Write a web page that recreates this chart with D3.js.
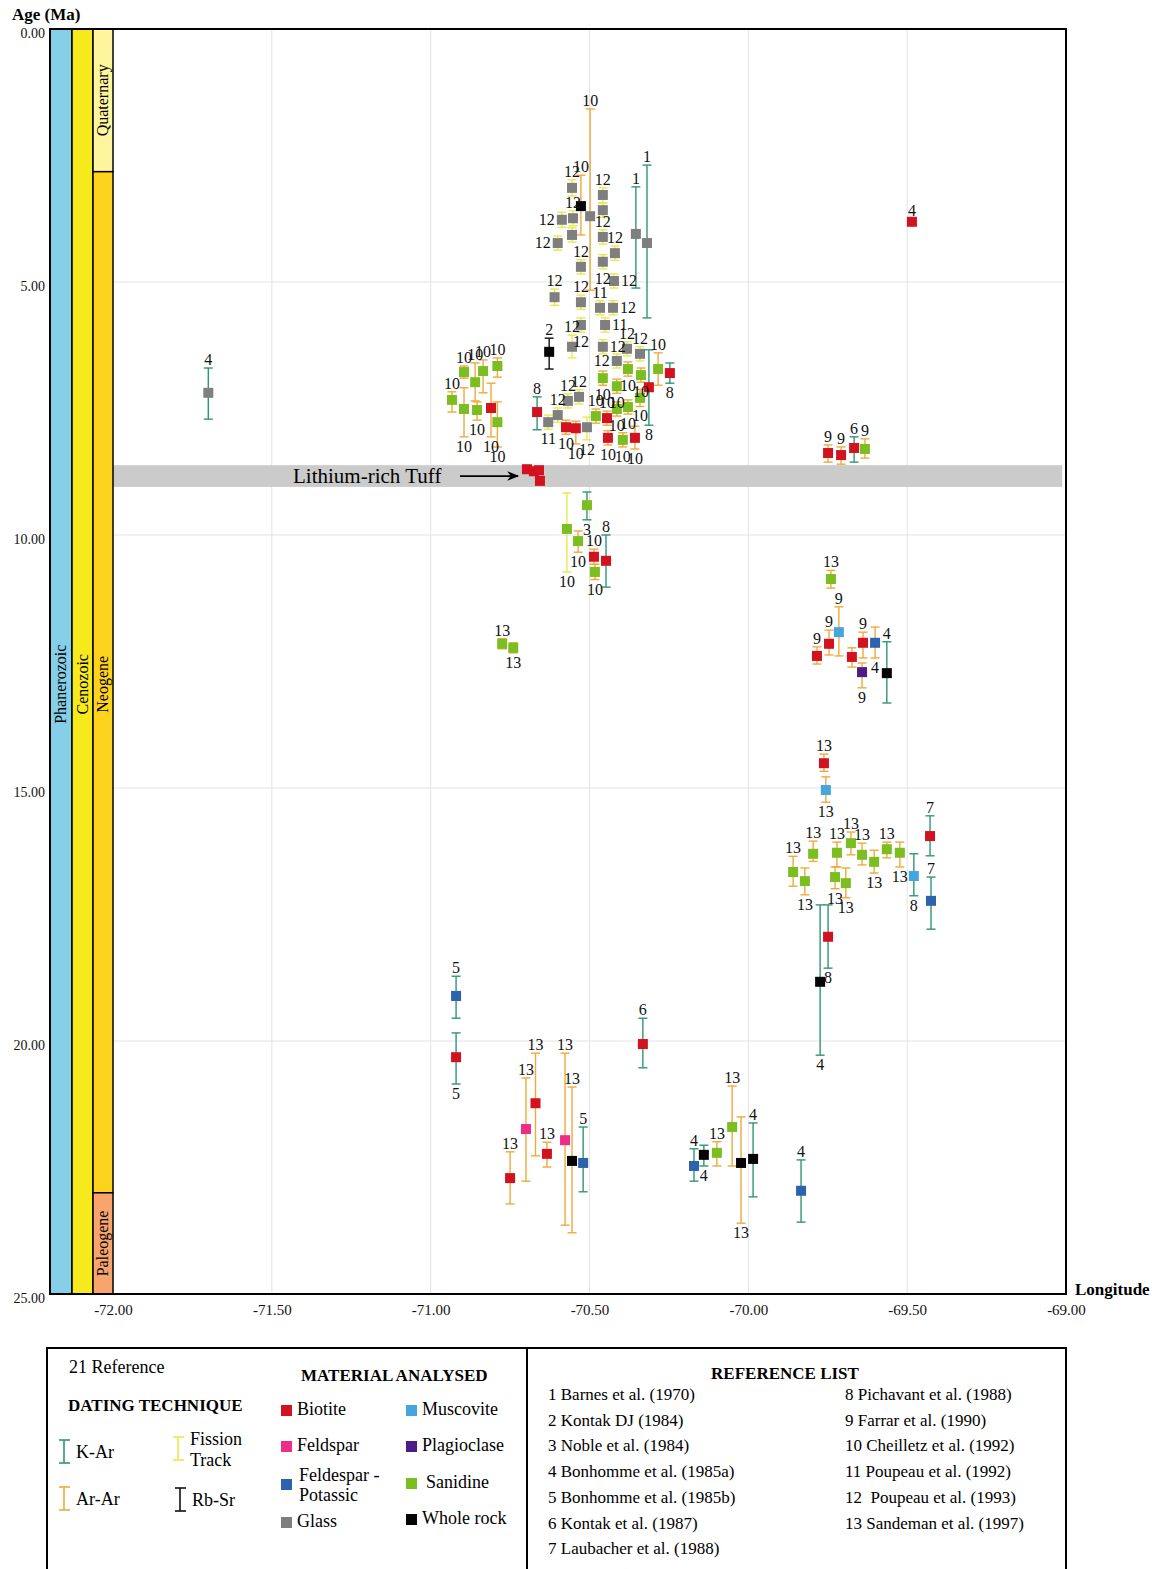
<!DOCTYPE html>
<html>
<head>
<meta charset="utf-8">
<script src="https://cdn.jsdelivr.net/npm/d3@7"></script>
<style>
  body { margin: 0; background: #fff; }
  svg text { font-family: "Liberation Serif", "Times New Roman", serif; }
</style>
</head>
<body>
<svg id="chart" width="1158" height="1569"></svg>
<script>
// sample rows: [longitude, age, ageMin, ageMax, material, technique, reference, label side]
const westSamples = [
  [-71.70, 7.19, 6.70, 7.71, 'Gl', 'KAr', '4', 't'],
  [-70.933, 7.33, 7.17, 7.57, 'Sa', 'ArAr', '10', 't'],
  [-70.895, 6.78, 6.66, 6.90, 'Sa', 'ArAr', '10', 't'],
  [-70.86, 6.98, 6.60, 7.35, 'Sa', 'ArAr', '10', 't'],
  [-70.835, 6.76, 6.54, 7.19, 'Sa', 'ArAr', '10', 't'],
  [-70.79, 6.66, 6.50, 6.88, 'Sa', 'ArAr', '10', 't'],
  [-70.895, 7.51, 7.09, 8.06, 'Sa', 'ArAr', '10', 'b'],
  [-70.854, 7.53, 7.37, 7.73, 'Sa', 'ArAr', '10', 'b'],
  [-70.81, 7.49, 7.00, 8.06, 'Bt', 'ArAr', '10', 'b'],
  [-70.79, 7.77, 7.37, 8.26, 'Sa', 'ArAr', '10', 'b'],
  [-70.775, 12.15, 12.05, 12.25, 'Sa', 'ArAr', '13', 't'],
  [-70.74, 12.23, 12.13, 12.33, 'Sa', 'ArAr', '13', 'b']
];

const northSamples = [
  [-70.555, 3.14, 2.98, 3.30, 'Gl', 'FT', '12', 't'],
  [-70.458, 3.28, 3.14, 3.44, 'Gl', 'FT', '12', 't'],
  [-70.527, 3.50, 2.89, 4.07, 'WR', 'ArAr', '10', 't'],
  [-70.458, 3.58, 3.44, 3.72, 'Gl', 'FT', '', ''],
  [-70.498, 3.70, 1.58, 5.16, 'Gl', 'ArAr', '10', 't'],
  [-70.587, 3.77, 3.62, 3.92, 'Gl', 'FT', '12', 'l'],
  [-70.552, 3.74, 3.59, 3.89, 'Gl', 'FT', '12', 't'],
  [-70.555, 4.07, 3.93, 4.21, 'Gl', 'FT', '', ''],
  [-70.458, 4.11, 3.97, 4.25, 'Gl', 'FT', '12', 't'],
  [-70.42, 4.43, 4.29, 4.57, 'Gl', 'FT', '12', 't'],
  [-70.60, 4.23, 4.09, 4.37, 'Gl', 'FT', '12', 'l'],
  [-70.527, 4.70, 4.56, 4.84, 'Gl', 'FT', '12', 't'],
  [-70.458, 4.60, 4.46, 4.74, 'Gl', 'FT', '12', 'b'],
  [-70.354, 4.05, 3.12, 5.12, 'Gl', 'KAr', '1', 't'],
  [-70.319, 4.23, 2.69, 5.71, 'Gl', 'KAr', '1', 't'],
  [-70.423, 4.98, 4.84, 5.12, 'Gl', 'FT', '12', 'r'],
  [-70.61, 5.30, 5.14, 5.46, 'Gl', 'FT', '12', 't'],
  [-70.527, 5.40, 5.26, 5.54, 'Gl', 'FT', '12', 't'],
  [-70.467, 5.51, 5.37, 5.65, 'Gl', 'FT', '11', 't'],
  [-70.426, 5.51, 5.37, 5.65, 'Gl', 'FT', '12', 'r'],
  [-70.627, 6.38, 6.11, 6.72, 'WR', 'RbSr', '2', 't'],
  [-70.527, 5.85, 5.71, 5.99, 'Gl', 'FT', '12', 'b'],
  [-70.555, 6.28, 6.05, 6.50, 'Gl', 'FT', '12', 't'],
  [-70.451, 5.85, 5.71, 5.99, 'Gl', 'FT', '11', 'r'],
  [-70.458, 6.28, 6.14, 6.42, 'Gl', 'FT', '12', 'r'],
  [-70.382, 6.32, 6.18, 6.46, 'Gl', 'FT', '12', 't'],
  [-70.341, 6.42, 6.28, 6.56, 'Gl', 'FT', '12', 't'],
  [-70.284, 6.72, 6.40, 7.04, 'Sa', 'ArAr', '10', 't'],
  [-70.247, 6.80, 6.60, 7.00, 'Bt', 'KAr', '8', 'b'],
  [-70.414, 6.56, 6.42, 6.70, 'Gl', 'FT', '12', 'l'],
  [-70.379, 6.72, 6.58, 6.86, 'Sa', 'ArAr', '10', 'b'],
  [-70.338, 6.84, 6.70, 6.98, 'Sa', 'ArAr', '10', 'b'],
  [-70.458, 6.90, 6.76, 7.04, 'Sa', 'ArAr', '10', 'b'],
  [-70.414, 7.06, 6.92, 7.20, 'Sa', 'ArAr', '10', 'b'],
  [-70.313, 7.08, 6.34, 7.83, 'Bt', 'KAr', '8', 'b'],
  [-70.341, 7.29, 7.12, 7.46, 'Sa', 'ArAr', '10', 'b'],
  [-70.568, 7.35, 7.21, 7.49, 'Gl', 'FT', '12', 't'],
  [-70.533, 7.27, 7.13, 7.41, 'Gl', 'FT', '12', 't'],
  [-70.60, 7.63, 7.49, 7.77, 'Gl', 'FT', '12', 't'],
  [-70.665, 7.57, 7.27, 7.92, 'Bt', 'KAr', '8', 't'],
  [-70.63, 7.77, 7.63, 7.91, 'Gl', 'FT', '11', 'b'],
  [-70.48, 7.65, 7.51, 7.79, 'Sa', 'ArAr', '10', 't'],
  [-70.508, 7.87, 7.67, 8.12, 'Gl', 'FT', '12', 'b'],
  [-70.574, 7.87, 7.73, 8.01, 'Bt', 'ArAr', '10', 'b'],
  [-70.543, 7.89, 7.75, 8.20, 'Bt', 'ArAr', '10', 'b'],
  [-70.445, 7.69, 7.55, 7.83, 'Bt', 'ArAr', '10', 't'],
  [-70.414, 7.51, 7.37, 7.65, 'Sa', 'ArAr', '10', 'b'],
  [-70.379, 7.47, 7.33, 7.61, 'Sa', 'ArAr', '10', 'b'],
  [-70.442, 8.08, 7.94, 8.22, 'Bt', 'ArAr', '10', 'b'],
  [-70.395, 8.12, 7.98, 8.26, 'Sa', 'ArAr', '10', 'b'],
  [-70.357, 8.08, 7.85, 8.30, 'Bt', 'ArAr', '10', 'b']
];

const tuffSamples = [
  [-70.697, 8.70, 8.66, 8.76, 'Bt', 'ArAr', '', ''],
  [-70.675, 8.74, 8.70, 8.80, 'Bt', 'ArAr', '', ''],
  [-70.659, 8.72, 8.68, 8.78, 'Bt', 'ArAr', '', ''],
  [-70.656, 8.93, 8.88, 9.00, 'Bt', 'ArAr', '', '']
];

const centralSamples = [
  [-70.571, 9.88, 9.17, 10.73, 'Sa', 'FT', '10', 'b'],
  [-70.508, 9.41, 9.15, 9.70, 'Sa', 'KAr', '3', 'b'],
  [-70.536, 10.12, 9.92, 10.34, 'Sa', 'ArAr', '10', 'b'],
  [-70.486, 10.43, 10.28, 10.58, 'Bt', 'ArAr', '10', 't'],
  [-70.483, 10.73, 10.58, 10.88, 'Sa', 'ArAr', '10', 'b'],
  [-70.448, 10.51, 10.00, 11.03, 'Bt', 'KAr', '8', 't']
];

const eastSamples = [
  [-69.485, 3.81, 3.76, 3.86, 'Bt', 'KAr', '4', 't'],
  [-69.749, 8.38, 8.22, 8.56, 'Bt', 'ArAr', '9', 't'],
  [-69.708, 8.42, 8.26, 8.60, 'Bt', 'ArAr', '9', 't'],
  [-69.667, 8.28, 8.06, 8.56, 'Bt', 'KAr', '6', 't'],
  [-69.633, 8.30, 8.10, 8.48, 'Sa', 'ArAr', '9', 't'],
  [-69.74, 10.87, 10.70, 11.05, 'Sa', 'ArAr', '13', 't'],
  [-69.715, 11.92, 11.42, 12.39, 'Ms', 'ArAr', '9', 't'],
  [-69.746, 12.15, 11.88, 12.37, 'Bt', 'ArAr', '9', 't'],
  [-69.784, 12.39, 12.21, 12.55, 'Bt', 'ArAr', '9', 't'],
  [-69.674, 12.41, 12.23, 12.61, 'Bt', 'ArAr', '', ''],
  [-69.639, 12.13, 11.92, 12.43, 'Bt', 'ArAr', '9', 't'],
  [-69.642, 12.71, 12.53, 13.02, 'Pl', 'ArAr', '9', 'b'],
  [-69.601, 12.13, 11.82, 12.43, 'Kf', 'ArAr', '4', 'b'],
  [-69.564, 12.73, 12.11, 13.32, 'WR', 'KAr', '4', 't'],
  [-69.762, 14.51, 14.33, 14.67, 'Bt', 'ArAr', '13', 't'],
  [-69.756, 15.04, 14.78, 15.28, 'Ms', 'ArAr', '13', 'b'],
  [-69.859, 16.66, 16.35, 16.94, 'Sa', 'ArAr', '13', 't'],
  [-69.822, 16.84, 16.58, 17.11, 'Sa', 'ArAr', '13', 'b'],
  [-69.796, 16.30, 16.05, 16.45, 'Sa', 'ArAr', '13', 't'],
  [-69.721, 16.28, 16.07, 16.56, 'Sa', 'ArAr', '13', 't'],
  [-69.727, 16.76, 16.56, 16.99, 'Sa', 'ArAr', '13', 'b'],
  [-69.693, 16.88, 16.58, 17.17, 'Sa', 'ArAr', '13', 'b'],
  [-69.677, 16.09, 15.87, 16.32, 'Sa', 'ArAr', '13', 't'],
  [-69.642, 16.32, 16.09, 16.52, 'Sa', 'ArAr', '13', 't'],
  [-69.604, 16.46, 16.23, 16.68, 'Sa', 'ArAr', '13', 'b'],
  [-69.564, 16.21, 16.07, 16.38, 'Sa', 'ArAr', '13', 't'],
  [-69.523, 16.28, 16.07, 16.56, 'Sa', 'ArAr', '13', 'b'],
  [-69.479, 16.74, 16.30, 17.13, 'Ms', 'KAr', '8', 'b'],
  [-69.428, 15.95, 15.55, 16.34, 'Bt', 'KAr', '7', 't'],
  [-69.425, 17.23, 16.76, 17.79, 'Kf', 'KAr', '7', 't'],
  [-69.749, 17.94, 17.31, 18.56, 'Bt', 'KAr', '8', 'b'],
  [-69.774, 18.83, 17.31, 20.28, 'WR', 'KAr', '4', 'b']
];

const southSamples = [
  [-70.92, 19.11, 18.72, 19.55, 'Kf', 'KAr', '5', 't'],
  [-70.92, 20.32, 19.84, 20.85, 'Bt', 'KAr', '5', 'b'],
  [-70.75, 22.71, 22.19, 23.22, 'Bt', 'ArAr', '13', 't'],
  [-70.70, 21.74, 20.73, 22.77, 'Fs', 'ArAr', '13', 't'],
  [-70.67, 21.23, 20.24, 22.27, 'Bt', 'ArAr', '13', 't'],
  [-70.634, 22.23, 22.00, 22.49, 'Bt', 'ArAr', '13', 't'],
  [-70.577, 21.96, 20.24, 23.64, 'Fs', 'ArAr', '13', 't'],
  [-70.555, 22.37, 20.91, 23.79, 'WR', 'ArAr', '13', 't'],
  [-70.52, 22.41, 21.70, 22.98, 'Kf', 'KAr', '5', 't'],
  [-70.332, 20.06, 19.55, 20.53, 'Bt', 'KAr', '6', 't'],
  [-70.171, 22.47, 22.13, 22.77, 'Kf', 'KAr', '4', 't'],
  [-70.14, 22.25, 22.06, 22.47, 'WR', 'KAr', '4', 'b'],
  [-70.099, 22.21, 21.99, 22.47, 'Sa', 'ArAr', '13', 't'],
  [-70.051, 21.70, 20.89, 22.47, 'Sa', 'ArAr', '13', 't'],
  [-70.023, 22.41, 21.50, 23.60, 'WR', 'ArAr', '13', 'b'],
  [-69.985, 22.33, 21.62, 23.08, 'WR', 'KAr', '4', 't'],
  [-69.834, 22.96, 22.35, 23.58, 'Kf', 'KAr', '4', 't']
];

const lonTicks = [-72, -71.5, -71, -70.5, -70, -69.5, -69];
const ageTicks = [0, 5, 10, 15, 20, 25];

const eonBands = [['Phanerozoic', 0, 25]];
const eraBands = [['Cenozoic', 0, 25]];
const periodBands = [['Quaternary', 0, 2.82], ['Neogene', 2.82, 23.0], ['Paleogene', 23.0, 25]];

const tuffRange = [8.62, 9.05];

const materialKeys = ['Bt', 'Fs', 'Kf', 'Gl', 'Ms', 'Pl', 'Sa', 'WR'];
const materialNames = ['Biotite', 'Feldspar', 'Feldespar - Potassic', 'Glass', 'Muscovite', 'Plagioclase', 'Sanidine', 'Whole rock'];
const techniqueKeys = ['KAr', 'FT', 'ArAr', 'RbSr'];
const techniqueNames = ['K-Ar', 'Fission Track', 'Ar-Ar', 'Rb-Sr'];

const references = [
  '1 Barnes et al. (1970)', '2 Kontak DJ (1984)', '3 Noble et al. (1984)',
  '4 Bonhomme et al. (1985a)', '5 Bonhomme et al. (1985b)', '6 Kontak et al. (1987)',
  '7 Laubacher et al. (1988)', '8 Pichavant et al. (1988)', '9 Farrar et al. (1990)',
  '10 Cheilletz et al. (1992)', '11 Poupeau et al. (1992)', '12  Poupeau et al. (1993)',
  '13 Sandeman et al. (1997)'
];

const MATERIAL_COLORS = {
  Bt: '#d3121f', Fs: '#ee2d87', Kf: '#2d62ae', Gl: '#7f7f7f',
  Ms: '#44a6dc', Pl: '#4c1c87', Sa: '#7cbe22', WR: '#050505'
};
const TECH_COLORS = { KAr: '#2f9577', ArAr: '#f0a93b', FT: '#e6ea4c', RbSr: '#111111' };
const SERIF = '"Liberation Serif", "Times New Roman", serif';

const svg = d3.select('#chart');
const x = d3.scaleLinear().domain([-72, -69]).range([113, 1066]);
const y = d3.scaleLinear().domain([0, 25]).range([29, 1294]);

// grid
const grid = svg.append('g');
grid.selectAll('.vg')
  .data(lonTicks.slice(1, -1))
  .enter().append('line')
  .attr('x1', d => x(d)).attr('x2', d => x(d))
  .attr('y1', y(0)).attr('y2', y(25))
  .attr('stroke', '#e3e3e3').attr('stroke-width', 1);
grid.selectAll('.hg')
  .data(ageTicks.slice(1, -1))
  .enter().append('line')
  .attr('x1', x(-72)).attr('x2', x(-69))
  .attr('y1', d => y(d)).attr('y2', d => y(d))
  .attr('stroke', '#e3e3e3').attr('stroke-width', 1);

// lithium-rich tuff band
svg.append('rect')
  .attr('x', x(-72)).attr('width', x(-69.012) - x(-72))
  .attr('y', y(tuffRange[0])).attr('height', y(tuffRange[1]) - y(tuffRange[0]))
  .attr('fill', '#cbcbcb');

svg.append('defs').append('marker')
  .attr('id', 'arrow')
  .attr('viewBox', '0 0 10 10')
  .attr('refX', 9).attr('refY', 5)
  .attr('markerWidth', 14).attr('markerHeight', 12)
  .attr('markerUnits', 'userSpaceOnUse')
  .attr('orient', 'auto')
  .append('path')
  .attr('d', 'M 0 1 L 10 5 L 0 9 L 3 5 z')
  .attr('fill', '#000');

const tuffMid = (tuffRange[0] + tuffRange[1]) / 2;
svg.append('text')
  .attr('x', 293).attr('y', y(tuffMid) + 7)
  .attr('font-size', '21px')
  .text('Lithium-rich Tuff');
svg.append('line')
  .attr('x1', 460).attr('x2', 518)
  .attr('y1', y(tuffMid)).attr('y2', y(tuffMid))
  .attr('stroke', '#000').attr('stroke-width', 1.8)
  .attr('marker-end', 'url(#arrow)');

// samples
const samples = [].concat(westSamples, northSamples, tuffSamples, centralSamples, eastSamples, southSamples)
  .map(r => ({ lon: r[0], age: r[1], lo: r[2], hi: r[3], mat: r[4], tech: r[5], ref: r[6], side: r[7] }));

const bars = svg.append('g');
samples.forEach(d => {
  const cx = x(d.lon);
  const c = TECH_COLORS[d.tech];
  bars.append('line')
    .attr('x1', cx).attr('x2', cx)
    .attr('y1', y(d.lo)).attr('y2', y(d.hi))
    .attr('stroke', c).attr('stroke-width', 1.4);
  [d.lo, d.hi].forEach(v => {
    bars.append('line')
      .attr('x1', cx - 4.5).attr('x2', cx + 4.5)
      .attr('y1', y(v)).attr('y2', y(v))
      .attr('stroke', c).attr('stroke-width', 1.4);
  });
});

svg.append('g').selectAll('rect')
  .data(samples)
  .enter().append('rect')
  .attr('x', d => x(d.lon) - 5)
  .attr('y', d => y(d.age) - 5)
  .attr('width', 10).attr('height', 10)
  .attr('fill', d => MATERIAL_COLORS[d.mat]);

svg.append('g').selectAll('text')
  .data(samples.filter(d => d.ref))
  .enter().append('text')
  .style('font-family', SERIF)
  .attr('font-size', '16px')
  .attr('fill', '#111')
  .attr('text-anchor', d => d.side === 'l' ? 'end' : d.side === 'r' ? 'start' : 'middle')
  .attr('x', d => d.side === 'l' ? x(d.lon) - 7 : d.side === 'r' ? x(d.lon) + 7 : x(d.lon))
  .attr('y', d => {
    if (d.side === 't') return y(d.lo) - 3;
    if (d.side === 'b') return y(d.hi) + 15;
    return y(d.age) + 5;
  })
  .text(d => d.ref);

// stratigraphic columns
const cols = [[eonBands, 50, 72, '#86cfe8'], [eraBands, 72, 93, '#f7ea1c'], [periodBands, 93, 113, null]];
const periodColors = { Quaternary: '#fff59c', Neogene: '#fdd31d', Paleogene: '#f8a46c' };
cols.forEach(([bands, x0, x1, fill]) => {
  bands.forEach(b => {
    svg.append('rect')
      .attr('x', x0).attr('width', x1 - x0)
      .attr('y', y(b[1])).attr('height', y(b[2]) - y(b[1]))
      .attr('fill', fill || periodColors[b[0]])
      .attr('stroke', '#000').attr('stroke-width', 1.5);
    const mid = (b[2] - b[1]) > 15 ? 12.95 : (b[1] + b[2]) / 2;
    svg.append('text')
      .attr('transform', `translate(${(x0 + x1) / 2 + 5},${y(mid)}) rotate(-90)`)
      .attr('text-anchor', 'middle')
      .attr('font-size', '16px')
      .text(b[0]);
  });
});

// frame
svg.append('rect')
  .attr('x', 50).attr('y', y(0))
  .attr('width', x(-69) - 50).attr('height', y(25) - y(0))
  .attr('fill', 'none').attr('stroke', '#000').attr('stroke-width', 2);

// axes
const xAxis = svg.append('g')
  .attr('transform', `translate(0,${y(25)})`)
  .call(d3.axisBottom(x).tickValues(lonTicks).tickSize(0).tickPadding(10).tickFormat(d => d.toFixed(2)));
xAxis.select('.domain').remove();
xAxis.selectAll('text').attr('font-size', '15px').style('font-family', SERIF).attr('fill', '#111');

const yAxis = svg.append('g')
  .attr('transform', 'translate(50,0)')
  .call(d3.axisLeft(y).tickValues(ageTicks).tickSize(0).tickPadding(5).tickFormat(d => d.toFixed(2)));
yAxis.select('.domain').remove();
yAxis.selectAll('text').attr('font-size', '14px').style('font-family', SERIF).attr('fill', '#111').attr('dy', '0.6em');

svg.append('text').attr('x', 12).attr('y', 20).attr('font-size', '17px').attr('font-weight', 'bold').text('Age (Ma)');
svg.append('text').attr('x', 1075).attr('y', 1295).attr('font-size', '17px').attr('font-weight', 'bold').text('Longitude');

// legend
const lg = svg.append('g');
lg.append('rect').attr('x', 47).attr('y', 1348).attr('width', 1019).attr('height', 240)
  .attr('fill', 'none').attr('stroke', '#000').attr('stroke-width', 2);
lg.append('line').attr('x1', 527).attr('x2', 527).attr('y1', 1348).attr('y2', 1590)
  .attr('stroke', '#000').attr('stroke-width', 2);

lg.append('text').attr('x', 69).attr('y', 1373).attr('font-size', '18px').text('21 Reference');
lg.append('text').attr('x', 68).attr('y', 1411).attr('font-size', '17px').attr('font-weight', 'bold').text('DATING TECHNIQUE');
lg.append('text').attr('x', 301).attr('y', 1381).attr('font-size', '17px').attr('font-weight', 'bold').text('MATERIAL ANALYSED');
lg.append('text').attr('x', 785).attr('y', 1379).attr('font-size', '17px').attr('font-weight', 'bold')
  .attr('text-anchor', 'middle').text('REFERENCE LIST');

const techPos = [[64, 1440], [178, 1437], [64, 1487], [180, 1488]];
techniqueKeys.forEach((k, i) => {
  const [tx, ty] = techPos[i];
  const c = TECH_COLORS[k];
  lg.append('line').attr('x1', tx).attr('x2', tx).attr('y1', ty).attr('y2', ty + 23).attr('stroke', c).attr('stroke-width', 1.6);
  lg.append('line').attr('x1', tx - 5).attr('x2', tx + 6).attr('y1', ty).attr('y2', ty).attr('stroke', c).attr('stroke-width', 1.6);
  lg.append('line').attr('x1', tx - 5).attr('x2', tx + 6).attr('y1', ty + 23).attr('y2', ty + 23).attr('stroke', c).attr('stroke-width', 1.6);
  const words = techniqueNames[i].split(' ');
  words.forEach((w, j) => {
    lg.append('text')
      .attr('x', tx + 12)
      .attr('y', words.length > 1 ? ty + 8 + j * 21 : ty + 18)
      .attr('font-size', '18px').text(w);
  });
});

const matPos = [[281, 1405], [281, 1441], [281, 1479], [281, 1517], [406, 1405], [406, 1441], [406, 1478], [406, 1514]];
materialKeys.forEach((k, i) => {
  const [mx, my] = matPos[i];
  lg.append('rect').attr('x', mx).attr('y', my).attr('width', 11).attr('height', 11).attr('fill', MATERIAL_COLORS[k]);
  const name = materialNames[i];
  if (name.indexOf(' - ') > 0) {
    lg.append('text').attr('x', mx + 18).attr('y', my + 2).attr('font-size', '18px').text('Feldespar -');
    lg.append('text').attr('x', mx + 18).attr('y', my + 22).attr('font-size', '18px').text('Potassic');
  } else {
    lg.append('text').attr('x', mx + 16 + (k === 'Sa' ? 4 : 0)).attr('y', my + 10).attr('font-size', '18px').text(name);
  }
});

references.forEach((r, i) => {
  const col = i < 7 ? 0 : 1;
  const row = i < 7 ? i : i - 7;
  lg.append('text')
    .attr('x', col ? 845 : 548)
    .attr('y', 1400 + row * 25.7)
    .attr('font-size', '17px')
    .style('white-space', 'pre')
    .text(r);
});
</script>
</body>
</html>
